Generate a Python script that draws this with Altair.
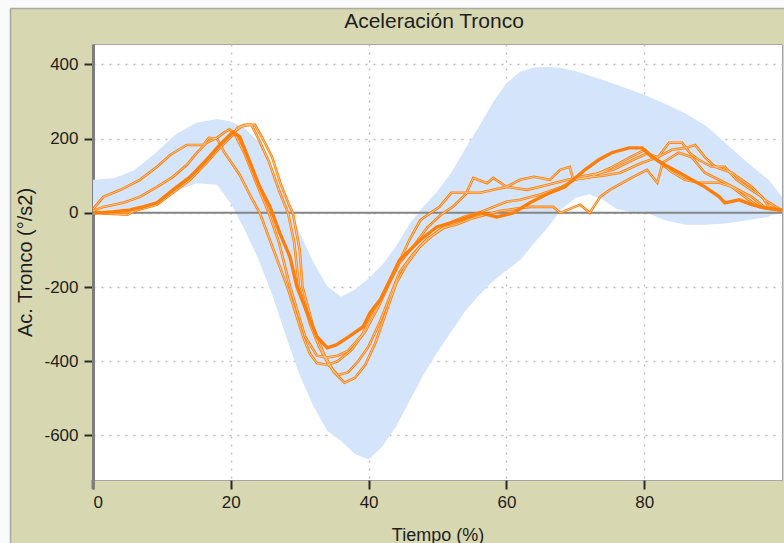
import altair as alt
import pandas as pd

# ---------------- data ----------------
band_x = [0, 3, 6, 9, 12, 15, 18, 20, 22, 24, 26, 28, 30, 32, 34, 36, 38, 40, 42, 44,
          46, 48, 50, 52, 54, 56, 58, 60, 62, 64, 66, 68, 70, 72, 74, 76, 78, 80, 83,
          86, 89, 92, 95, 98, 100]
band_upper = [89, 93, 115, 160, 212, 243, 253, 246, 228, 192, 125, 35, -53, -134, -198,
              -226, -207, -177, -140, -90, -28, 18, 59, 108, 172, 232, 296, 350, 380, 392,
              393, 390, 382, 370, 358, 345, 332, 318, 294, 268, 234, 185, 135, 90, 43]
band_lower = [8, 8, 13, 25, 58, 80, 76, 25, -45, -125, -220, -332, -438, -521, -587,
              -615, -650, -665, -630, -575, -505, -435, -375, -320, -265, -222, -185,
              -155, -127, -82, -40, 10, 40, 50, 35, 10, 3, 3, -20, -32, -32, -28, -20,
              -11, 8]

thick_x = [0, 3, 5.4, 7, 9.3, 11.6, 14.1, 16.5, 18.4, 20.3, 21.3, 22.8, 24.2, 25.7, 27.1,
           28.6, 29.6, 31.1, 32.5, 34.0, 35.3, 37.2, 39.2, 40.2, 41.7, 43.1, 44.5, 47.5,
           49.9, 53.3, 56.2, 58.6, 61, 63.4, 66.3, 68.5, 71.4, 73.4, 75.3, 77.8, 79.7,
           81.1, 83, 85.1, 86.9, 88.8, 90.9, 91.7, 93.8, 95.6, 97.5, 100]
thick_y = [0, 3, 8, 15, 27, 62, 97, 143, 183, 218, 205, 135, 70, 16, -54, -119, -199,
           -270, -334, -364, -356, -333, -307, -270, -234, -181, -127, -73, -38, -19, 0,
           -11, 0, 27, 54, 70, 116, 143, 162, 175, 175, 151, 129, 108, 89, 70, 43, 27, 35,
           22, 13, 8]

a_x = [0, 1.5, 4, 6.8, 9.3, 11.2, 13.6, 16, 16.8, 18, 19, 21.3, 23, 24.2, 26, 28.2, 30.5,
       31.5, 32.5, 34, 35.5, 37.5, 39.5, 41.5, 43, 44.5, 46.5, 48.5, 50.5, 52.2, 54.3,
       56.2, 58.1, 60.1, 63, 65.9, 68, 70.7, 73, 75.5, 78.4, 80.4, 82, 84, 86, 87.4, 88.8,
       90.3, 92.7, 95.6, 97.5, 99.7, 100]
a_y = [10, 43, 62, 89, 124, 156, 183, 183, 202, 200, 165, 102, 40, 0, -90, -199, -334,
       -380, -405, -410, -400, -370, -320, -250, -190, -135, -90, -40, -5, 16, 54, 54, 62,
       70, 62, 75, 85, 97, 105, 116, 143, 160, 150, 170, 175, 183, 150, 124, 108, 70, 35,
       10, 8]

b_x = [0, 1.5, 4.4, 6.8, 9.3, 11.6, 13.6, 15.1, 16.5, 18, 19, 19.8, 20.5, 22, 23.5, 25.5,
       27, 28.6, 30.8, 32.5, 34, 35.5, 37, 39, 41, 43, 44.5, 46, 47.5, 49, 50.3, 52, 54.2,
       55.2, 57.2, 58.1, 60, 62, 64, 66.3, 67.8, 69.2, 69.7, 71.4, 74, 76.5, 79.7, 82,
       83.6, 85.5, 86.7, 87.9, 89.8, 91.7, 93.4, 95.7, 97.1, 98.1, 100]
b_y = [5, 16, 27, 43, 70, 97, 129, 162, 189, 202, 216, 225, 215, 160, 90, 0, -80, -199,
       -334, -385, -390, -385, -372, -330, -260, -185, -130, -70, -20, 0, 16, 54, 54, 94,
       80, 94, 70, 89, 97, 89, 116, 124, 89, 95, 100, 108, 135, 150, 189, 189, 160, 143,
       124, 124, 89, 60, 43, 16, 8]

c_x = [0, 3, 5, 6, 9.3, 11.6, 14.1, 16.5, 18.4, 20.3, 21, 22, 23, 24, 25.5, 27, 28.3,
       29.2, 29.9, 31.5, 32.8, 34.2, 35.5, 37, 38.5, 40, 41.5, 43, 44.5, 46.5, 48.5, 51,
       53, 55, 57, 59, 61, 63.4, 66.8, 67.8, 70.7, 72.1, 73.6, 75, 78.4, 80.4, 81.9,
       82.7, 85, 86.9, 88.8, 91.7, 95.6, 97.5, 100]
c_y = [0, -3, -5, 5, 22, 54, 89, 135, 175, 210, 230, 237, 237, 200, 140, 60, 0, -80,
       -199, -300, -360, -410, -437, -430, -400, -360, -300, -230, -160, -110, -70, -40,
       -30, -15, -5, 5, 10, 16, 16, 0, 22, 0, 43, 62, 97, 116, 81, 135, 162, 150, 108,
       81, 43, 15, 8]

d_x = [0, 3, 5.5, 9.3, 11.6, 14.1, 16.5, 18.4, 20.3, 21.5, 22.5, 23.5, 24.5, 26, 27.2,
       28.5, 29, 30, 30.4, 32, 33.5, 35, 36.5, 38, 39.5, 41, 42.5, 44, 45.5, 47.5, 50,
       52, 54, 56, 58, 60, 62, 65, 68, 70, 72, 75, 78, 80.1, 82, 84, 85.9, 88, 90.9,
       92.7, 94.6, 96.7, 100]
d_y = [2, 0, 3, 27, 60, 97, 143, 183, 215, 232, 237, 237, 205, 150, 80, 20, 0, -100,
       -199, -310, -380, -430, -458, -445, -410, -350, -270, -190, -140, -90, -50, -25,
       -10, 0, 15, 30, 35, 50, 70, 90, 95, 120, 150, 170, 140, 110, 89, 81, 81, 70, 43,
       16, 5]

title_text = "Aceleración Tronco"
x_title = "Tiempo (%)"
y_title = "Ac. Tronco (°/s2)"
x_ticks = [0, 20, 40, 60, 80]
y_ticks = [-600, -400, -200, 0, 200, 400]

# ---------------- tables ----------------
band_df = pd.DataFrame({"x": band_x, "hi": band_upper, "lo": band_lower})
thick_df = pd.DataFrame({"x": thick_x, "y": thick_y})
thin_rows = []
for name, xs_, ys_ in [("A", a_x, a_y), ("B", b_x, b_y), ("C", c_x, c_y), ("D", d_x, d_y)]:
    for xv, yv in zip(xs_, ys_):
        thin_rows.append({"run": name, "x": xv, "y": yv})
thin_df = pd.DataFrame(thin_rows)

ORANGE = "#FF7F0A"
FONT = "Liberation Sans, Arial, sans-serif"
TXT = "#1E1E1E"

xs = alt.Scale(domain=[0, 100], nice=False, zero=False)
ys = alt.Scale(domain=[-720, 455], nice=False, zero=False)

x_axis = alt.Axis(values=x_ticks, title=x_title, labelExpr="'' + datum.value", domain=False,
                  grid=True, gridDash=[2, 6], gridColor="#BEBEBE", gridWidth=1.5,
                  ticks=True, tickSize=9, tickWidth=2, tickColor="#2A2A2A",
                  labelPadding=5, labelFontSize=17, labelColor=TXT, labelFont=FONT,
                  titleFontSize=18, titleFont=FONT, titleColor=TXT,
                  titleFontWeight="normal", titleBaseline="top", titleY=46)
y_axis = alt.Axis(values=y_ticks, title=y_title, labelExpr="'' + datum.value",
                  domain=True, domainColor="#7E7E7E", domainWidth=3,
                  grid=True, gridDash=[2, 6], gridColor="#BEBEBE", gridWidth=1.5,
                  ticks=True, tickSize=9, tickWidth=2, tickColor="#2A2A2A",
                  labelPadding=6, labelFontSize=17, labelColor=TXT, labelFont=FONT,
                  titleFontSize=20, titleFont=FONT, titleColor=TXT,
                  titleFontWeight="normal", titleX=-68, titleY=218,
                  titleAlign="center", titleBaseline="middle", titleAngle=270)

band = alt.Chart(band_df).mark_area(color="#D4E4FA", opacity=1).encode(
    x=alt.X("x:Q", scale=xs, axis=x_axis),
    y=alt.Y("hi:Q", scale=ys, axis=y_axis),
    y2="lo:Q",
)

zero = alt.Chart(pd.DataFrame({"y": [0]})).mark_rule(color="#858585", strokeWidth=2).encode(
    y=alt.Y("y:Q", scale=ys)
)

thin_outer = alt.Chart(thin_df).mark_line(color=ORANGE, strokeWidth=2.6, interpolate="linear").encode(
    x=alt.X("x:Q", scale=xs), y=alt.Y("y:Q", scale=ys), detail="run:N"
)
thin_core = alt.Chart(thin_df).mark_line(color="#FFE2C2", strokeWidth=0.7, interpolate="linear").encode(
    x=alt.X("x:Q", scale=xs), y=alt.Y("y:Q", scale=ys), detail="run:N"
)
thick = alt.Chart(thick_df).mark_line(color=ORANGE, strokeWidth=3.4).encode(
    x=alt.X("x:Q", scale=xs), y=alt.Y("y:Q", scale=ys)
)

# frame decoration: white strip and border at the left / top of the panel, axis stub, title
deco = pd.DataFrame({"k": [0]})
left_strip = alt.Chart(deco).mark_rect(color="#FAFAFA").encode(
    x=alt.value(-93), x2=alt.value(-83), y=alt.value(-44), y2=alt.value(499))
top_strip = alt.Chart(deco).mark_rect(color="#FAFAFA").encode(
    x=alt.value(-93), x2=alt.value(691), y=alt.value(-44), y2=alt.value(-36))
left_border = alt.Chart(deco).mark_rule(color="#A9A9A0", strokeWidth=1.5).encode(
    x=alt.value(-82.5), y=alt.value(-35.5), y2=alt.value(499))
top_border = alt.Chart(deco).mark_rule(color="#A9A9A0", strokeWidth=1.5).encode(
    x=alt.value(-82.5), x2=alt.value(691), y=alt.value(-35.5))
axis_stub = alt.Chart(deco).mark_rule(color="#7E7E7E", strokeWidth=3).encode(
    x=alt.value(0), y=alt.value(436), y2=alt.value(445))
title_mark = alt.Chart(deco).mark_text(
    text=title_text, font=FONT, fontSize=21, color=TXT, align="center", baseline="middle"
).encode(x=alt.value(341), y=alt.value(-22))

chart = alt.layer(
    band, zero, thin_outer, thin_core, thick,
    left_strip, top_strip, left_border, top_border, axis_stub, title_mark
).properties(
    width=689, height=436,
    autosize=alt.AutoSizeParams(type="none"),
    padding={"left": 93, "top": 44, "right": 2, "bottom": 63},
    background="#D7D7B1",
).configure_view(
    fill="white", stroke="#A5A5A5", strokeWidth=1
)

chart.save("out.html", embed_options={"renderer": "svg", "actions": False})
